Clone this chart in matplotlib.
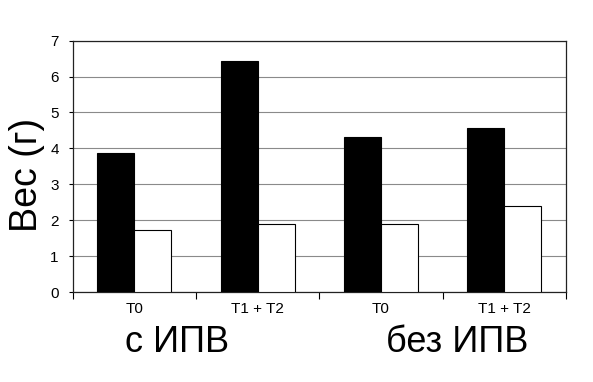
import numpy as np
import matplotlib
matplotlib.use('Agg')
import matplotlib.pyplot as plt

# ── Data ──
categories = ['T0', 'T1 + T2', 'T0', 'T1 + T2']
groups = ['с ИПВ', 'без ИПВ']
black_vals = [3.86, 6.43, 4.31, 4.56]
white_vals = [1.73, 1.89, 1.89, 2.40]

plt.rcParams['font.family'] = ['Liberation Sans', 'DejaVu Sans']

fig = plt.figure(figsize=(5.93, 3.82), dpi=100)
ax = fig.add_axes([0.1226, 0.2356, 0.8319, 0.6579])

x = np.arange(len(categories))
w = 0.3
ax.bar(x - w / 2, black_vals, w, color='black', edgecolor='black', linewidth=0.8, zorder=3)
ax.bar(x + w / 2, white_vals, w, color='white', edgecolor='black', linewidth=0.8, zorder=3)

ax.set_xlim(-0.5, len(categories) - 0.5)
ax.set_ylim(0, 7)
ax.set_yticks(range(8))
ax.yaxis.grid(True, color='#8a8a8a', linewidth=0.8, zorder=0)

# category boundary ticks, labels at centres
ax.set_xticks(np.arange(-0.5, len(categories), 1.0))
ax.set_xticklabels([])
ax.set_xticks(x, minor=True)
ax.set_xticklabels(categories, minor=True, fontsize=11)
ax.tick_params(axis='x', which='major', direction='out', length=5, width=0.8)
ax.tick_params(axis='x', which='minor', length=0, pad=7)
ax.tick_params(axis='y', direction='out', length=3, width=0.8, labelsize=11, pad=7)

for s in ax.spines.values():
    s.set_color('#222222')
    s.set_linewidth(0.9)

fig.text(9 / 593, 1 - 174.5 / 382, 'Вес (г)', fontsize=27, rotation=90,
         ha='left', va='center')

fig.text(177 / 593, 1 - 352 / 382, groups[0], fontsize=26, ha='center', va='baseline')
fig.text(457 / 593, 1 - 352 / 382, groups[1], fontsize=26, ha='center', va='baseline')

plt.savefig('out.png', dpi=100)
plt.close()
